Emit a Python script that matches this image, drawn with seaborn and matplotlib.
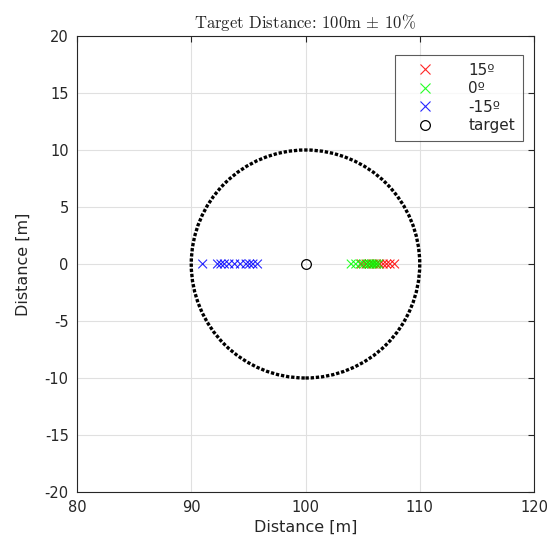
import numpy as np
import pandas as pd
import matplotlib
matplotlib.use("Agg")
import matplotlib.pyplot as plt
import seaborn as sns
from matplotlib.patches import Circle
from matplotlib.lines import Line2D

# Data
target = 100.0
tolerance = 10.0
x_15 = [104.9, 105.3, 105.6, 105.9, 106.2, 106.5, 106.8, 107.1, 107.4, 107.8]
x_0 = [104.0, 104.4, 104.8, 105.1, 105.4, 105.6, 105.8, 106.0, 106.2, 106.4]
x_m15 = [91.0, 92.3, 92.6, 92.9, 93.3, 93.8, 94.3, 94.8, 95.1, 95.4, 95.8]
labels = ["15º", "0º", "-15º"]
colors = ["#ff0000", "#00ff00", "#0000ff"]
xticks = [80, 90, 100, 110, 120]
yticks = [-20, -15, -10, -5, 0, 5, 10, 15, 20]

sns.set_style("white")
plt.rcParams["font.family"] = ["DejaVu Sans"]
plt.rcParams["mathtext.fontset"] = "cm"
plt.rcParams["axes.unicode_minus"] = False

fig = plt.figure(figsize=(5.51, 5.50), dpi=100)
ax = fig.add_axes([77 / 551, 58 / 550, 457 / 551, 456 / 550])

frames = []
for xs, lab in zip([x_15, x_0, x_m15], labels):
    frames.append(pd.DataFrame({"x": xs, "y": [0.0] * len(xs), "angle": lab}))
df = pd.concat(frames, ignore_index=True)

ax.add_patch(Circle((target, 0), tolerance, fill=False, edgecolor="black",
                    linestyle=(0, (1, 0.55)), linewidth=2.4, zorder=2))

sns.scatterplot(data=df, x="x", y="y", hue="angle", hue_order=labels,
                palette=colors, marker="x", s=40, linewidth=0.8, ax=ax,
                legend=False, zorder=3, alpha=0.85)

ax.plot([target], [0], marker="o", markersize=7, markerfacecolor="none",
        markeredgecolor="black", markeredgewidth=0.9, linestyle="none", zorder=4)

# Legend
handles = [Line2D([], [], marker="x", linestyle="none", color=c, markersize=7,
                  markeredgewidth=0.8, alpha=0.85) for c in colors]
handles.append(Line2D([], [], marker="o", linestyle="none", markersize=7,
                      markerfacecolor="none", markeredgecolor="black",
                      markeredgewidth=0.9))
leg = ax.legend(handles, labels + ["target"], loc="upper right",
                bbox_to_anchor=(0.985, 0.968), frameon=True, fancybox=False,
                fontsize=11, handlelength=3.0, handletextpad=1.3,
                borderpad=0.5, labelspacing=0.22, borderaxespad=0.3)
leg.get_frame().set_edgecolor("#333333")
leg.get_frame().set_linewidth(0.8)

ax.set_xlim(80, 120)
ax.set_ylim(-20, 20)
ax.set_xticks(xticks)
ax.set_yticks(yticks)
ax.grid(True, color="#e0e0e0", linewidth=0.8)
ax.set_axisbelow(True)
for s in ax.spines.values():
    s.set_visible(True)
    s.set_color("#262626")
    s.set_linewidth(0.8)
ax.tick_params(direction="in", length=4, width=0.8, colors="#262626",
               labelsize=10.5, top=True, right=True, labelcolor="#262626", pad=6)
ax.set_xlabel("Distance [m]", fontsize=11.5, color="#262626", labelpad=3)
ax.set_ylabel("Distance [m]", fontsize=11.5, color="#262626", labelpad=10)
ax.set_title(r"Target Distance: 100m $\pm$ 10%", family=["cmr10", "DejaVu Serif"],
             fontsize=12, color="#262626", pad=6)

fig.savefig("out.png", dpi=100)
